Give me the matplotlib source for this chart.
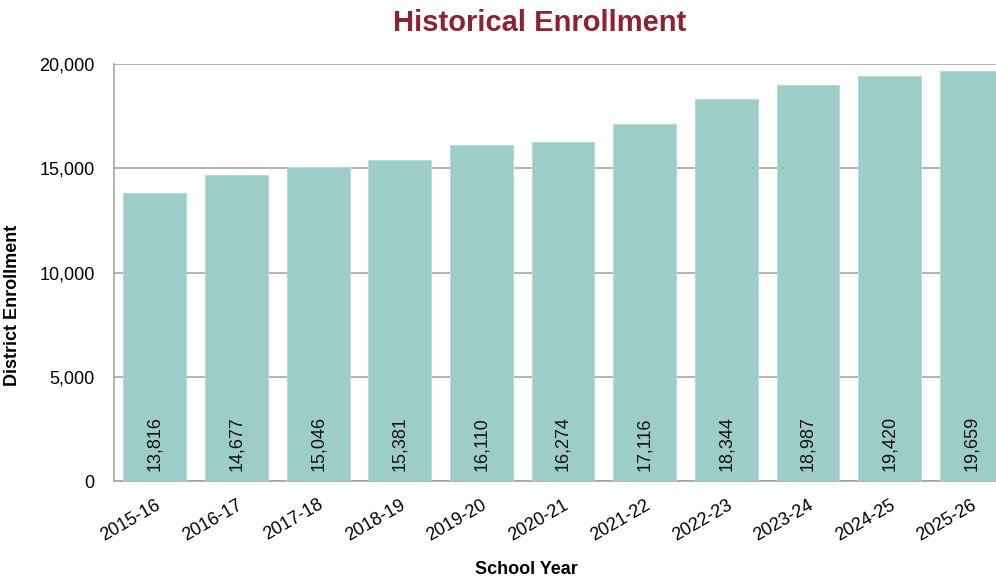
import matplotlib
matplotlib.use('Agg')
import matplotlib.pyplot as plt
from matplotlib.ticker import FuncFormatter

years = ['2015-16', '2016-17', '2017-18', '2018-19', '2019-20', '2020-21',
         '2021-22', '2022-23', '2023-24', '2024-25', '2025-26']
enrollment = [13816, 14677, 15046, 15381, 16110, 16274, 17116, 18344, 18987, 19420, 19659]

plt.rcParams['font.family'] = ['Liberation Sans', 'DejaVu Sans']

fig = plt.figure(figsize=(9.96, 5.82), dpi=100)
ax = fig.add_axes([0.1145, 0.1735, 0.9016, 0.7165])

x = list(range(len(years)))
bars = ax.bar(x, enrollment, width=0.77, color='#9dcdc7', edgecolor='#b5dcd7',
              linewidth=0.8, zorder=3)

# value labels written upward from the bottom of each bar
for xi, v in zip(x, enrollment):
    ax.annotate(f'{v:,}', (xi, 0), xytext=(0, 7), textcoords='offset points',
                rotation=90, ha='center', va='bottom', fontsize=13, color='#111111',
                zorder=4)

ax.set_xlim(-0.5, len(years) - 0.5)
ax.set_ylim(0, 20000)
ax.set_yticks([0, 5000, 10000, 15000, 20000])
ax.yaxis.set_major_formatter(FuncFormatter(lambda v, p: f'{int(v):,}'))
ax.grid(axis='y', color='#a6a6a6', linewidth=1.2, zorder=0)
ax.set_axisbelow(True)

ax.set_xticks(x)
ax.set_xticklabels(years, rotation=30, ha='right', rotation_mode='anchor', fontsize=13)
ax.tick_params(axis='y', labelsize=13, length=0, pad=14)
ax.tick_params(axis='x', length=0, pad=11)

for s in ['top', 'right']:
    ax.spines[s].set_visible(False)
ax.spines['left'].set_color('#a6a6a6')
ax.spines['bottom'].set_color('#a6a6a6')
ax.spines['left'].set_linewidth(1.2)
ax.spines['bottom'].set_linewidth(1.2)

ax.set_ylabel('District Enrollment', fontsize=13, fontweight='bold')
ax.yaxis.set_label_coords(-0.104, 0.422)
fig.text(0.528, 0.022, 'School Year', fontsize=13, fontweight='bold', ha='center', va='center')

fig.text(0.542, 0.96, 'Historical Enrollment', fontsize=21, fontweight='bold',
         color='#8b2331', ha='center', va='center',
         family=['Liberation Sans Narrow', 'Liberation Sans'])

fig.savefig('out.png', dpi=100)
